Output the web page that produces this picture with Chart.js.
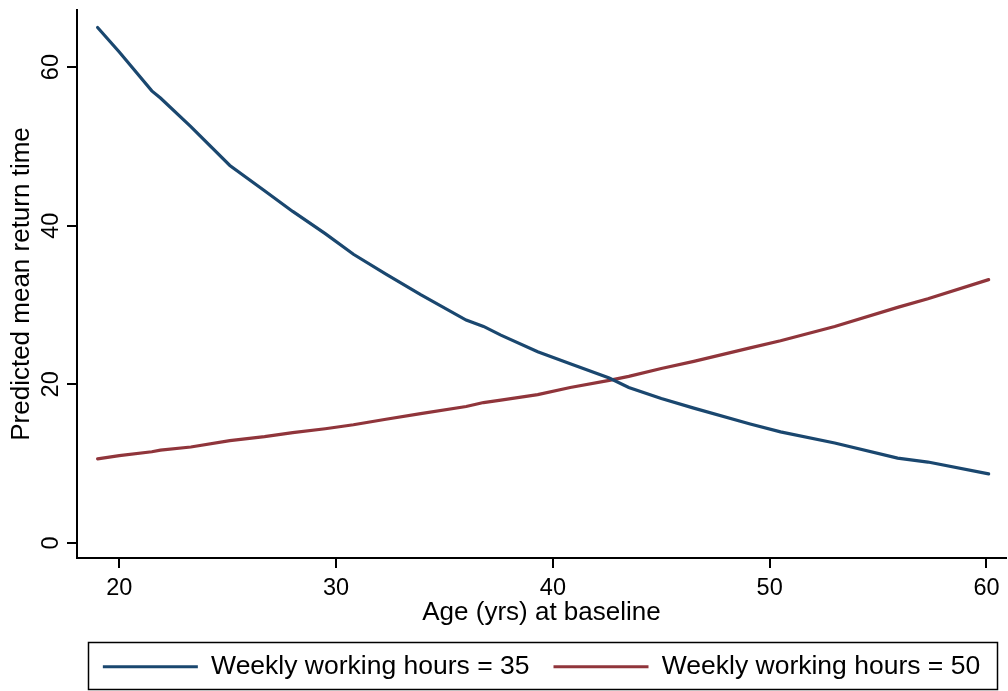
<!DOCTYPE html>
<html>
<head>
<meta charset="utf-8">
<script src="https://cdn.jsdelivr.net/npm/chart.js@4.4.1/dist/chart.umd.min.js"></script>
<style>
  html, body { margin: 0; padding: 0; background: #fff; }
</style>
</head>
<body>
<canvas id="myChart" width="1008" height="691"></canvas>
<script>
var ages = [19, 20, 21.5, 21.9, 23.3, 25.1, 26.7, 28, 29.5, 30.8, 32.3, 33.9, 36, 36.8, 37.6, 39.3, 40.8, 42.6, 43.5, 45, 46.5, 49.1, 50.5, 53, 55.9, 57.3, 60.1];
var hours35 = [65.0, 61.9, 57.0, 56.1, 52.5, 47.6, 44.4, 41.8, 39.0, 36.4, 33.9, 31.3, 28.1, 27.3, 26.2, 24.1, 22.6, 20.8, 19.6, 18.2, 17.0, 15.0, 14.0, 12.6, 10.7, 10.2, 8.7];
var hours50 = [10.6, 11.0, 11.5, 11.7, 12.1, 12.9, 13.4, 13.9, 14.4, 14.9, 15.6, 16.3, 17.2, 17.7, 18.0, 18.7, 19.6, 20.5, 21.0, 22.0, 22.9, 24.6, 25.5, 27.3, 29.7, 30.8, 33.2];
var xTicks = [20, 30, 40, 50, 60];
var yTicks = [0, 20, 40, 60];
var seriesLabels = ['Weekly working hours = 35', 'Weekly working hours = 50'];

var fontFamily = "'Liberation Sans', Arial, sans-serif";

function toPoints(values) {
    return ages.map(function (a, i) { return { x: a, y: values[i] }; });
}

// frame drawn around the legend, like Stata does
var legendBox = {
    id: 'legendBox',
    afterDraw: function (chart) {
        var lg = chart.legend;
        if (!lg || !lg.legendHitBoxes || !lg.legendHitBoxes.length) return;
        var hb = lg.legendHitBoxes;
        var first = hb[0], last = hb[hb.length - 1];
        var x0 = Math.round(first.left - 14.5) + 0.5;
        var x1 = Math.round(last.left + last.width + 17) + 0.5;
        var y0 = Math.round(lg.top + 12) + 0.5;
        var y1 = Math.round(lg.bottom) - 0.5;
        var c = chart.ctx;
        c.save();
        c.strokeStyle = '#000';
        c.lineWidth = 1.5;
        c.strokeRect(x0, y0, x1 - x0, y1 - y0);
        c.restore();
    }
};

var ctx = document.getElementById('myChart').getContext('2d');
var chart = new Chart(ctx, {
    type: 'line',
    data: {
        datasets: [
            {
                label: seriesLabels[0],
                data: toPoints(hours35),
                borderColor: '#1a476f',
                borderWidth: 3.2,
                pointRadius: 0,
                tension: 0,
                borderCapStyle: 'round',
                fill: false
            },
            {
                label: seriesLabels[1],
                data: toPoints(hours50),
                borderColor: '#90353b',
                borderWidth: 3.2,
                pointRadius: 0,
                tension: 0,
                borderCapStyle: 'round',
                fill: false
            }
        ]
    },
    options: {
        responsive: false,
        animation: false,
        devicePixelRatio: 1,
        layout: { padding: { top: 10, right: 2, bottom: 1, left: 0 } },
        plugins: {
            tooltip: { enabled: false },
            legend: {
                position: 'bottom',
                fullSize: false,
                labels: {
                    usePointStyle: true,
                    pointStyle: 'line',
                    pointStyleWidth: 95,
                    padding: 24,
                    color: '#000',
                    font: { family: fontFamily, size: 26.5 }
                }
            }
        },
        scales: {
            x: {
                type: 'linear',
                min: 18.05,
                max: 60.9,
                afterBuildTicks: function (s) { s.ticks = xTicks.map(function (v) { return { value: v }; }); },
                afterFit: function (s) { s.height = 71.5; s.paddingLeft = 0; s.paddingRight = 0; },
                grid: { drawOnChartArea: false, drawTicks: true, tickLength: 10, color: '#000', lineWidth: 2 },
                border: { display: true, color: '#000', width: 2 },
                ticks: {
                    color: '#000',
                    padding: 6,
                    maxRotation: 0,
                    font: { family: fontFamily, size: 23.5 }
                },
                title: {
                    display: true,
                    text: 'Age (yrs) at baseline',
                    color: '#000',
                    font: { family: fontFamily, size: 26, lineHeight: 1.2 },
                    padding: { top: 0, bottom: 1 }
                }
            },
            y: {
                min: -1.9,
                max: 67.2,
                afterBuildTicks: function (s) { s.ticks = yTicks.map(function (v) { return { value: v }; }); },
                afterFit: function (s) { s.width = 77; s.paddingTop = 0; s.paddingBottom = 0; },
                grid: { drawOnChartArea: false, drawTicks: true, tickLength: 10, color: '#000', lineWidth: 2 },
                border: { display: true, color: '#000', width: 2 },
                ticks: {
                    color: '#000',
                    padding: 2,
                    minRotation: 90,
                    maxRotation: 90,
                    crossAlign: 'center',
                    font: { family: fontFamily, size: 23.5 }
                },
                title: {
                    display: true,
                    text: 'Predicted mean return time',
                    color: '#000',
                    font: { family: fontFamily, size: 26, lineHeight: 1.2 },
                    padding: { top: 6, bottom: 0 }
                }
            }
        }
    },
    plugins: [legendBox]
});
</script>
</body>
</html>
